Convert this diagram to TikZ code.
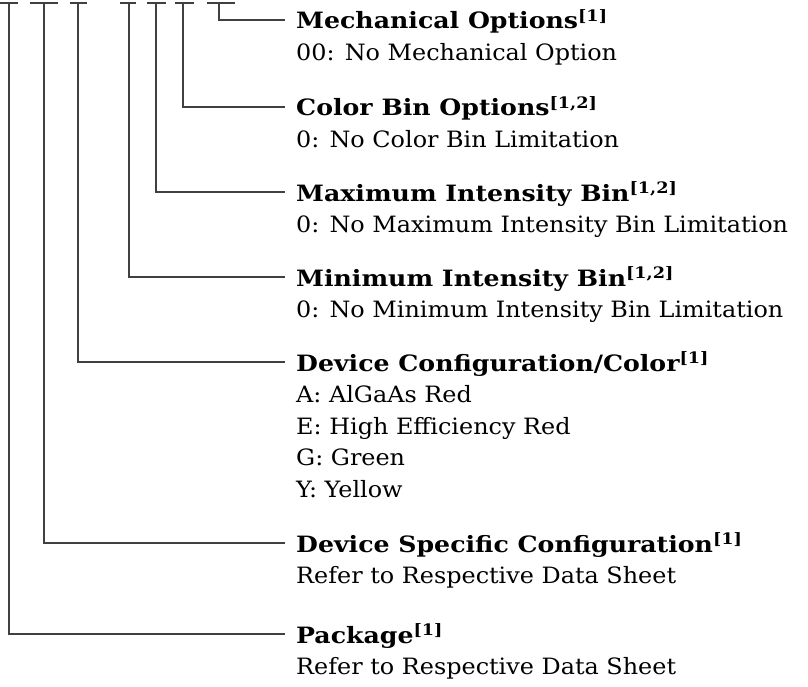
\documentclass[tikz,border=0pt]{standalone}
\usepackage{fontspec}
\setmainfont{DejaVu Serif}[FakeStretch=1.062]
\newfontfamily\ttlfam{DejaVu Serif}[FakeStretch=1.12]
\begin{document}
\begin{tikzpicture}[x=1pt,y=-1pt,
  wire/.style={draw=black!75,line width=1.1pt},
  ttl/.style={anchor=base west,inner sep=0pt,font=\fontsize{22.5}{27}\ttlfam\bfseries},
  txt/.style={anchor=base west,inner sep=0pt,font=\fontsize{22.5}{27}\selectfont}]
\useasboundingbox (0,0) rectangle (808,687);
% tick bars at top
\foreach \a/\b/\c/\n in {0/18/9/t1,30/58/44/t2,70/87/78/t3,120/136/129/t4,147/166/156/t5,175/194/183/t6,207/235/219/t7}{
  \coordinate (\n) at (\c,3);
  \draw[wire] (\a,3) -- (\b,3);
}
% line ends
\foreach \y/\n in {20/e7,107/e6,192/e5,277/e4,362/e3,543/e2,634/e1}{
  \coordinate (\n) at (285,\y);
}
% titles and bodies
\node[ttl] (m) at (296,29) {Mechanical Options\textsuperscript{[1]}};
\node[txt] (m1) at (296,60.5) {00: No Mechanical Option};
\node[ttl] (c) at (296,116) {Color Bin Options\textsuperscript{[1,2]}};
\node[txt] (c1) at (296,147.5) {0: No Color Bin Limitation};
\node[ttl] (x) at (296,201) {Maximum Intensity Bin\textsuperscript{[1,2]}};
\node[txt] (x1) at (296,232.5) {0: No Maximum Intensity Bin Limitation};
\node[ttl] (n) at (296,286) {Minimum Intensity Bin\textsuperscript{[1,2]}};
\node[txt] (n1) at (296,317.5) {0: No Minimum Intensity Bin Limitation};
\node[ttl] (d) at (296,371) {Device Configuration/Color\textsuperscript{[1]}};
\node[txt] (d1) at (296,402.5) {A: AlGaAs Red};
\node[txt] (d2) at (296,434) {E: High Efficiency Red};
\node[txt] (d3) at (296,465.5) {G: Green};
\node[txt] (d4) at (296,497) {Y: Yellow};
\node[ttl] (s) at (296,552) {Device Specific Configuration\textsuperscript{[1]}};
\node[txt] (s1) at (296,583.5) {Refer to Respective Data Sheet};
\node[ttl] (p) at (296,643) {Package\textsuperscript{[1]}};
\node[txt] (p1) at (296,674.5) {Refer to Respective Data Sheet};
% connectors
\draw[wire] (t7) |- (e7);
\draw[wire] (t6) |- (e6);
\draw[wire] (t5) |- (e5);
\draw[wire] (t4) |- (e4);
\draw[wire] (t3) |- (e3);
\draw[wire] (t2) |- (e2);
\draw[wire] (t1) |- (e1);
\end{tikzpicture}
\end{document}
